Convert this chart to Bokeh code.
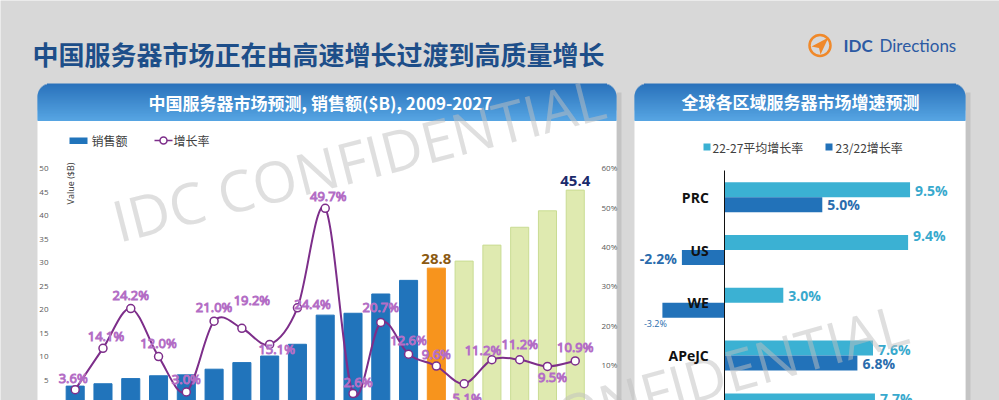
import math
from bokeh.plotting import figure
from bokeh.models import (Range1d, LinearAxis, FixedTicker, PrintfTickFormatter,
                          ColumnDataSource)
from bokeh.transform import dodge
from bokeh.core.properties import value
from bokeh.embed import file_html
from bokeh.resources import INLINE

# ---------------- data ----------------
main_title = "中国服务器市场正在由高速增长过渡到高质量增长"
left_title = "中国服务器市场预测, 销售额($B), 2009-2027"
right_title = "全球各区域服务器市场增速预测"

years = [2009, 2010, 2011, 2012, 2013, 2014, 2015, 2016, 2017, 2018,
         2019, 2020, 2021, 2022, 2023, 2024, 2025, 2026, 2027]
sales = [3.7, 4.2, 5.3, 5.9, 6.1, 7.3, 8.7, 10.1, 12.6, 18.8,
         19.2, 23.3, 26.2, 28.8, 30.3, 33.7, 37.5, 41.0, 45.4]
growth = [3.6, 14.1, 24.2, 12.0, 3.0, 21.0, 19.2, 15.1, 24.4, 49.7,
          2.6, 20.7, 12.6, 9.6, 5.1, 11.2, 11.2, 9.5, 10.9]
base_year = 2022          # orange bar
labeled_years = [2022, 2027]
left_ticks = [5, 10, 15, 20, 25, 30, 35, 40, 45, 50]
right_ticks = [10, 20, 30, 40, 50, 60]

regions = ["PRC", "US", "WE", "APeJC", "Japan"]
avg_growth = [9.5, 9.4, 3.0, 7.6, 7.7]            # 22-27平均增长率
yoy_growth = [5.0, -2.2, -3.2, 6.8, float("nan")]  # 23/22增长率 (last not visible)

# ---------------- layout helpers (image pixel -> figure data) ----------------
W, H = 999, 400
def X(px):
    return px
def Y(py):
    return H - py

C_BLUE = "#2174bb"
C_ORANGE = "#f7941d"
C_GREEN = "#dfeab0"
C_GREEN_L = "#c9dc92"
C_PURPLE = "#7d2e8a"
C_LIGHT = "#3bb1d3"
C_DARK = "#2272b9"
CJK = value("Noto Sans CJK SC")
LAT = value("Open Sans")

p = figure(width=W, height=H, x_range=Range1d(0, W), y_range=Range1d(0, H),
           x_axis_type=None, y_axis_type=None, toolbar_location=None,
           output_backend="svg", min_border=0, outline_line_color=None)
p.background_fill_color = "#d8d8d8"
p.border_fill_color = "#d8d8d8"

# pixel anchors of the data scales
yr_x0, yr_step = 74.7, 27.78      # 2009 centre, px per year
val_y0, val_step = 403.0, 4.7     # value 0 line, px per $B
pct_y0, pct_step = 403.3, 3.933   # 0 %, px per %
g_x0, g_step = 724.3, 19.5        # 0 %, px per %
cat_y0, cat_step = 196.7, 52.8    # first region centre, px per region

p.extra_x_ranges = {
    "yr": Range1d(years[0] + (0 - yr_x0) / yr_step, years[0] + (W - yr_x0) / yr_step),
    "g": Range1d((0 - g_x0) / g_step, (W - g_x0) / g_step),
}
p.extra_y_ranges = {
    "val": Range1d((val_y0 - H) / val_step, val_y0 / val_step),
    "pct": Range1d((pct_y0 - H) / pct_step, pct_y0 / pct_step),
    "cat": Range1d((H - cat_y0) / cat_step, (0 - cat_y0) / cat_step),
}

def box(x0, y0, x1, y1, color):
    p.quad(left=[X(x0)], right=[X(x1)], top=[Y(y0)], bottom=[Y(y1)],
           fill_color=color, line_color=None)

def mix(c1, c2, t):
    a = [int(c1[i:i + 2], 16) for i in (1, 3, 5)]
    b = [int(c2[i:i + 2], 16) for i in (1, 3, 5)]
    return "#%02x%02x%02x" % tuple(int(round(a[k] + (b[k] - a[k]) * t)) for k in range(3))

def header(x0, y0, x1, y1, r=13):
    n = int(y1 - y0)
    L, R, T, B, C = [], [], [], [], []
    for k in range(n):
        dy = k + 0.5
        inset = r - math.sqrt(max(r * r - (r - dy) ** 2, 0)) if dy < r else 0
        L.append(X(x0 + inset)); R.append(X(x1 - inset))
        T.append(Y(y0 + k)); B.append(Y(y0 + k + 1.4))
        C.append(mix("#2a72bb", "#56a4e2", k / (n - 1)))
    p.quad(left=L, right=R, top=T, bottom=B, fill_color=C, line_color=None)

# ---------------- panels ----------------
box(616, 92, 621, 410, "#c4c4c4")
box(965, 92, 970, 410, "#c4c4c4")
box(37, 110, 616, 410, "#ffffff")
box(634, 110, 965, 410, "#ffffff")
header(37, 83, 616, 120)
header(634, 83, 965, 120)

p.text(x=[X(32)], y=[Y(53)], text=[main_title], text_font=CJK, text_font_style="bold",
       text_font_size="26px", text_color="#1d4e89", text_baseline="middle", text_align="left")
p.text(x=[X(320)], y=[Y(102)], text=[left_title], text_font=CJK, text_font_style="bold",
       text_font_size="17px", text_color="white", text_baseline="middle", text_align="center")
p.text(x=[X(800)], y=[Y(101)], text=[right_title], text_font=CJK, text_font_style="bold",
       text_font_size="17px", text_color="white", text_baseline="middle", text_align="center")

# logo
p.circle(x=[X(819.5)], y=[Y(45)], radius=10.5, fill_color=None, line_color="#f0892a", line_width=2.5)
p.patch(x=[X(811), X(828), X(820), X(818.5)], y=[Y(46), Y(37), Y(54), Y(47.5)],
        fill_color="#f0892a", line_color=None)
p.text(x=[X(843)], y=[Y(45)], text=["IDC"], text_font=value("Lato"), text_font_style="bold",
       text_font_size="17px", text_color="#2c5aa3", text_baseline="middle", text_align="left")
p.text(x=[X(879)], y=[Y(45)], text=["Directions"], text_font=value("Lato"),
       text_font_size="17px", text_color="#2c5aa3", text_baseline="middle", text_align="left")

# legends
box(69, 137, 87, 143.5, C_BLUE)
p.text(x=[X(91)], y=[Y(140)], text=["销售额"], text_font=CJK, text_font_size="12px",
       text_color="#404040", text_baseline="middle", text_align="left")
p.line(x=[X(154), X(172)], y=[Y(140), Y(140)], line_color=C_PURPLE, line_width=1.5)
p.scatter(x=[X(163)], y=[Y(140)], size=7, marker="circle", fill_color="white",
          line_color=C_PURPLE, line_width=1.5)
p.text(x=[X(173)], y=[Y(140)], text=["增长率"], text_font=CJK, text_font_size="12px",
       text_color="#404040", text_baseline="middle", text_align="left")

box(703, 143, 710, 150, C_LIGHT)
p.text(x=[X(712)], y=[Y(146.5)], text=["22-27平均增长率"], text_font=CJK, text_font_size="12px",
       text_color="#404040", text_baseline="middle", text_align="left")
box(825, 143, 832, 150, C_DARK)
p.text(x=[X(835)], y=[Y(146.5)], text=["23/22增长率"], text_font=CJK, text_font_size="12px",
       text_color="#404040", text_baseline="middle", text_align="left")

p.text(x=[X(70)], y=[Y(183)], text=["Value ($B)"], angle=math.pi / 2, text_font=LAT,
       text_font_size="9px", text_color="#333333", text_baseline="middle", text_align="center")

# ---------------- left chart ----------------
fills = [C_BLUE if y < base_year else (C_ORANGE if y == base_year else C_GREEN) for y in years]
lines = [C_BLUE if y < base_year else (C_ORANGE if y == base_year else C_GREEN_L) for y in years]
src = ColumnDataSource(dict(year=years, sales=sales, growth=growth, fill=fills, line=lines,
                            glabel=["%.1f%%" % g for g in growth]))
p.vbar(x="year", top="sales", bottom=0, width=0.65, fill_color="fill", line_color="line",
       x_range_name="yr", y_range_name="val", source=src)

lab_src = ColumnDataSource(dict(
    year=[y for y in years if y in labeled_years],
    sales=[s for y, s in zip(years, sales) if y in labeled_years],
    text=["%.1f" % s for y, s in zip(years, sales) if y in labeled_years],
    color=["#8b5a12" if y == base_year else "#1b2a6b" for y in years if y in labeled_years]))
p.text(x="year", y="sales", text="text", text_color="color", source=lab_src,
       x_range_name="yr", y_range_name="val", text_font=LAT, text_font_style="bold",
       text_font_size="15px", text_align="center", text_baseline="bottom", y_offset=-4)

# smooth growth line (Catmull-Rom bezier through the data points)
n = len(years)
bz = dict(x0=[], y0=[], x1=[], y1=[], cx0=[], cy0=[], cx1=[], cy1=[])
for i in range(n - 1):
    xm, ym = years[max(i - 1, 0)], growth[max(i - 1, 0)]
    xa, ya = years[i], growth[i]
    xb, yb = years[i + 1], growth[i + 1]
    xp, yp = years[min(i + 2, n - 1)], growth[min(i + 2, n - 1)]
    bz["x0"].append(xa); bz["y0"].append(ya); bz["x1"].append(xb); bz["y1"].append(yb)
    bz["cx0"].append(xa + (xb - xm) / 6); bz["cy0"].append(ya + (yb - ym) / 6)
    bz["cx1"].append(xb - (xp - xa) / 6); bz["cy1"].append(yb - (yp - ya) / 6)
p.bezier(source=ColumnDataSource(bz), x0="x0", y0="y0", x1="x1", y1="y1", cx0="cx0", cy0="cy0",
         cx1="cx1", cy1="cy1", line_color=C_PURPLE, line_width=2,
         x_range_name="yr", y_range_name="pct")
p.scatter(x="year", y="growth", source=src, size=8, marker="circle", fill_color="white",
          line_color=C_PURPLE, line_width=1.5, x_range_name="yr", y_range_name="pct")

# label placement (screen px, + = right / down)
gl_dx = [-2, 3, 0, 0, 0, 0, 10, 7, 15, 3, 5, 0, 0, 0, 3, -9, 0, 5, 0]
gl_dy = [-12, -12, -14, -14, -13, -14, -28, 5, -4, -12, -12, -15, -14, -12, 14, -10, -16, 11, -14]
src.data["gdx"] = gl_dx
src.data["gdy"] = gl_dy
p.text(x="year", y="growth", text="glabel", source=src, x_offset="gdx", y_offset="gdy",
       x_range_name="yr", y_range_name="pct", text_font=LAT, text_font_size="13px",
       text_color="#ecd0f3", text_outline_color="#b36dc5", text_align="center",
       text_baseline="middle")

ax_l = LinearAxis(x_range_name="yr", y_range_name="val",
                  fixed_location=years[0] + (57 - yr_x0) / yr_step,
                  ticker=FixedTicker(ticks=left_ticks))
ax_r = LinearAxis(x_range_name="yr", y_range_name="pct",
                  fixed_location=years[0] + (592 - yr_x0) / yr_step,
                  ticker=FixedTicker(ticks=right_ticks),
                  formatter=PrintfTickFormatter(format="%d%%"))
for ax in (ax_l, ax_r):
    ax.axis_line_color = None
    ax.major_tick_line_color = None
    ax.minor_tick_line_color = None
    ax.major_label_text_font_size = "8px"
    ax.major_label_text_color = "#595959"
    ax.major_label_text_font = "Open Sans"
    ax.major_label_standoff = 3
p.add_layout(ax_l, "left")
p.add_layout(ax_r, "right")

# ---------------- right chart ----------------
idx = list(range(len(regions)))
src2 = ColumnDataSource(dict(
    idx=idx, avg=avg_growth, yoy=yoy_growth,
    avg_t=["%.1f%%" % v for v in avg_growth],
    yoy_t=["" if v != v else "%.1f%%" % v for v in yoy_growth],
    a_dy=[1, -7, 0, 1, -2],
    y_dx=[5, -5, -7, 5, 5],
    y_dy=[0, 1, 13, 0, 0],
    y_align=["left", "right", "center", "left", "left"],
    y_size=["14px", "14px", "9px", "14px", "14px"],
    y_style=["bold", "bold", "normal", "bold", "bold"],
))
p.hbar(y=dodge("idx", -0.142), height=0.284, left=0, right="avg", source=src2,
       fill_color=C_LIGHT, line_color=None, x_range_name="g", y_range_name="cat")
p.hbar(y=dodge("idx", 0.142), height=0.284, left=0, right="yoy", source=src2,
       fill_color=C_DARK, line_color=None, x_range_name="g", y_range_name="cat")
p.text(x="avg", y=dodge("idx", -0.142), text="avg_t", source=src2, x_offset=5, y_offset="a_dy",
       x_range_name="g", y_range_name="cat", text_font=LAT, text_font_style="bold",
       text_font_size="14px", text_color="#38a9cd", text_align="left", text_baseline="middle")
p.text(x="yoy", y=dodge("idx", 0.142), text="yoy_t", source=src2, x_offset="y_dx", y_offset="y_dy",
       x_range_name="g", y_range_name="cat", text_font=LAT, text_font_style="y_style",
       text_font_size="y_size", text_color="#2a6cad", text_align="y_align", text_baseline="middle")

ax_c = LinearAxis(x_range_name="g", y_range_name="cat", fixed_location=0,
                  ticker=FixedTicker(ticks=idx),
                  major_label_overrides={i: r for i, r in zip(idx, regions)},
                  bounds=((170 - cat_y0) / cat_step, len(regions) + 1))
ax_c.axis_line_color = "#111111"
ax_c.axis_line_width = 1
ax_c.major_tick_line_color = None
ax_c.minor_tick_line_color = None
ax_c.major_label_text_font_size = "14px"
ax_c.major_label_text_font_style = "bold"
ax_c.major_label_text_font = "Open Sans"
ax_c.major_label_text_color = "#111111"
ax_c.major_label_standoff = 10
p.add_layout(ax_c, "left")

# ---------------- watermark ----------------
p.text(x=[X(113), X(418)], y=[Y(221), Y(456)], text=["IDC CONFIDENTIAL", "IDC CONFIDENTIAL"],
       angle=[0.25, 0.27], text_font=LAT, text_font_size="57px", text_color="#c0c0c0",
       text_alpha=0.5, text_align="left", text_baseline="alphabetic")

open("out.html", "w", encoding="utf-8").write(file_html(p, INLINE))
